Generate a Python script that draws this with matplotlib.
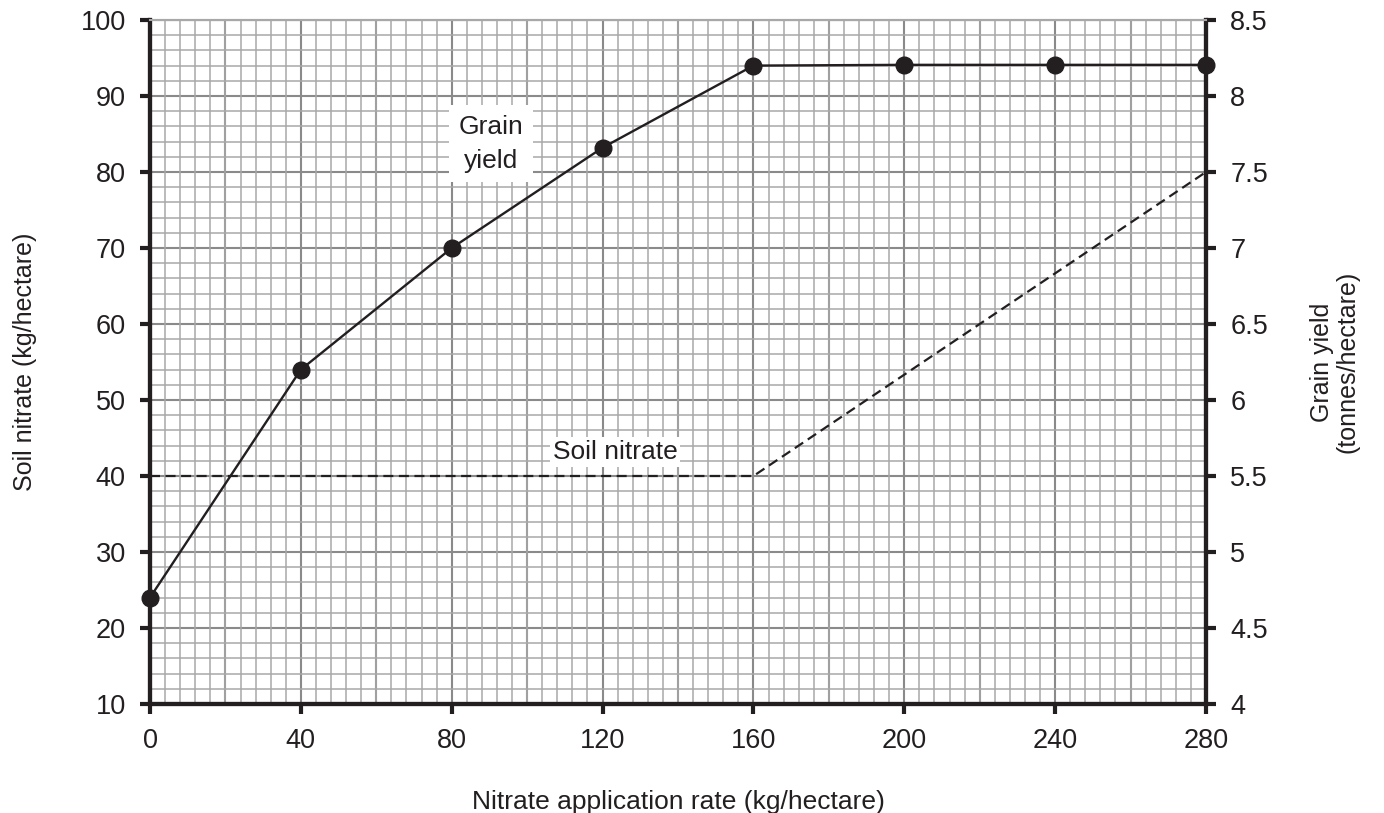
import matplotlib
matplotlib.use("Agg")
from matplotlib import pyplot as plt
from matplotlib.ticker import MultipleLocator

plt.rcParams["font.family"] = ["Liberation Sans", "DejaVu Sans"]

# data
rate = [0, 40, 80, 120, 160, 200, 240, 280]
grain_yield = [4.7, 6.2, 7.0, 7.66, 8.2, 8.205, 8.205, 8.205]  # tonnes/hectare
nitrate_rate = [0, 160, 280]
soil_nitrate = [40, 40, 80]  # kg/hectare

x_ticks = [0, 40, 80, 120, 160, 200, 240, 280]
left_ticks = [10, 20, 30, 40, 50, 60, 70, 80, 90, 100]
right_ticks = [4, 4.5, 5, 5.5, 6, 6.5, 7, 7.5, 8, 8.5]
right_labels = ["4", "4.5", "5", "5.5", "6", "6.5", "7", "7.5", "8", "8.5"]

ink = "#231f20"

fig = plt.figure(figsize=(13.84, 8.13), dpi=100)
ax = fig.add_axes([150 / 1384, 109 / 813, 1056 / 1384, 684 / 813])
ax2 = ax.twinx()

ax.set_xlim(0, 280)
ax.set_ylim(10, 100)
ax2.set_ylim(4, 8.5)

# graph paper grid
ax.xaxis.set_minor_locator(MultipleLocator(4))
ax.yaxis.set_minor_locator(MultipleLocator(2))
ax.grid(which="minor", color="#a8a8a8", linewidth=1.1, zorder=0)
for v in range(20, 281, 20):
    ax.axvline(v, color="#8a8a8a", linewidth=1.5, zorder=0.5)
for v in range(20, 101, 10):
    ax.axhline(v, color="#8a8a8a", linewidth=1.5, zorder=0.5)
ax.set_axisbelow(True)

# soil nitrate (dashed)
ax.plot(nitrate_rate, soil_nitrate, color=ink, linestyle=(0, (4.5, 2.5)),
        linewidth=1.6, zorder=3, clip_on=False)

# grain yield on the right axis
ax2.plot(rate, grain_yield, color=ink, linewidth=1.7, marker="o",
         markersize=12, zorder=4, clip_on=False)

ax.text(90.5, 83.7, "Grain\nyield", ha="center", va="center", fontsize=19,
        color=ink, linespacing=1.5,
        bbox=dict(facecolor="white", edgecolor="none", pad=7), zorder=5)
ax.text(123.3, 43.2, "Soil nitrate", ha="center", va="center", fontsize=19,
        color=ink,
        bbox=dict(facecolor="white", edgecolor="none", pad=2), zorder=5)

ax.set_xticks(x_ticks)
ax.set_yticks(left_ticks)
ax2.set_yticks(right_ticks)
ax2.set_yticklabels(right_labels)

for a in (ax, ax2):
    for s in a.spines.values():
        s.set_linewidth(3)
        s.set_color(ink)
    a.spines["top"].set_color("#a8a8a8")
    a.spines["top"].set_linewidth(1.5)
    a.tick_params(which="major", length=7.5, width=3, color=ink,
                  labelsize=19.5, labelcolor=ink, pad=10)
    a.tick_params(which="minor", length=0)

ax.set_xlabel("Nitrate application rate (kg/hectare)", fontsize=19,
              color=ink, labelpad=26)
ax.set_ylabel("Soil nitrate (kg/hectare)", fontsize=18, color=ink,
              labelpad=31)
ax2.set_ylabel("Grain yield\n(tonnes/hectare)", fontsize=18, color=ink,
               labelpad=30, linespacing=1.1)

fig.savefig("out.png", dpi=100)
